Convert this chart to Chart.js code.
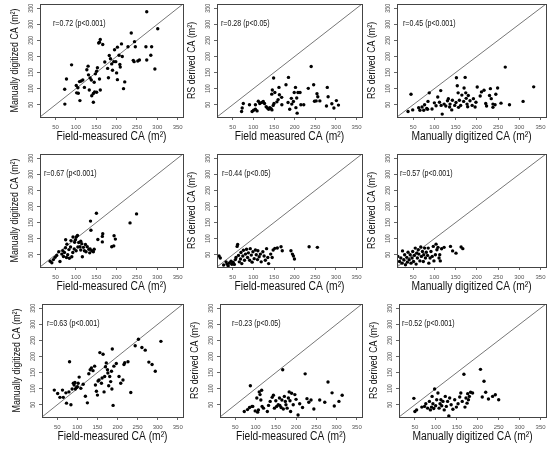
<!DOCTYPE html>
<html>
<head>
<meta charset="utf-8">
<script src="https://cdn.jsdelivr.net/npm/chart.js@4.4.1/dist/chart.umd.min.js"></script>
<style>
html, body { margin: 0; padding: 0; background: #fff; }
#wrap { position: relative; width: 550px; height: 451px; overflow: hidden; }
#wrap canvas { position: absolute; }
</style>
</head>
<body>
<div id="wrap"></div>
<script>
// ---- data ----
// row 1
const p1x = [89.5,77,72.6,73,101,105,102,106,110,109,113,117,121,127,131,130,135,138,133,139,143,146,151,143,145,148,151,153,158,160,158,160,166,156,171,178,180,182,185,188,190,193,195,198,200,202,202,206,208,209,212,214,217,220,228,236,241,243,244,246,252,256,274,272,284,286,294,274,301];
const p1y = [174,130,98,52,110,103,87,86,63,122,124,127,104,159,143,170,133,127,96,78,85,90,89,58,120,146,154,165,130,96,244,253,237,242,183,163,134,203,193,177,157,184,221,184,149,229,128,204,175,167,239,200,100,121,230,273,188,184,246,230,186,189,189,230,204,230,161,339,286];
const p2x = [71.5,73,75.7,90.6,97,100.6,105,109,105,112,115.5,120,124,127,131,134,137,140,143,145,148,150,149,144.5,146,152,157,160,163,162,168.5,169,179,185,184,188,192,193,197,199,202,203,206,205,208,213,215,222,233,240,246,248,252,254,256,261,279,281,277,290,295,301,306];
const p2y = [29,40,54,50,29,33,36,31,50,61,54,57,60,54,44,40,36,41,38,34,48,54,133,83,96,88,59,66,81,104,73,50,112,135,57,36,70,52,60,88,104,41,24,71,88,88,50,50,101,169,112,61,62,84,75,62,104,75,46,53,40,63,49];
const p3x = [45,38,49,63,66,71,75,77,82,85,88,84,94.5,100,104,108,112,115,116,118.5,123,127,131,133,136,137,141,142.5,148,151,152,154,156,159,157,162,164.8,169,170,172.5,174,175,177,178.5,180,184,189,192,196,198,201,208,211,217,221,223,230,232,234,238,243,244.8,249,257,267,277,309,334,238];
const p3y = [82.5,29,34,40.5,33,43,33,50,38.5,60.5,87,36,37,56,47,74,58,94,48,21,52,46,62.6,69,43,52,34,64,48,57,134,109,87,64,42,48,80,60.5,102,135,87,70,52,44,79,62.6,48,69,43,58,105,77,90,95,54,46,79,100,69,52,50,82.5,102,55,167,50,60.5,105.6,42];
// row 2
const p4x = [37,41,45,49,53,58,61,65.5,68,69.6,72,74.5,75,77,78,80,83,84,87,88,90,92.5,93,96,97,99,101,104,105,107,110,112,112,114.5,116,118.6,121,123.5,125,128,132,134,136,137,135,139,143,145,150.5,154,165,166,165,188,193,193.8,197,233,249,100.7];
const p4y = [30,25,35,42,48,59.5,29,52,62.7,44.7,57,72,96.5,41.5,83,50,66,39,74,94,44,57,105,68,89,96.5,105,110,74,88,75,65,92,84,44,73,62.7,82,59.5,75,67,56,154.5,126,68,62.7,59.5,67,179,97.5,107,115.5,90,75,77.5,109,98.6,149,177,62.7];
const p5x = [17,20,28,34,36,39,42,46,48,51,54,56.5,58,60.6,62,64,66,69,70,72,74.5,76,78.6,81,83.5,86,88,91,92.5,95,97,99,102,105,107,110,111,114,117,119,123,126,129,132,135,137,142,145.6,148,152,158,167,170,191,194.6,197,199.5,235,255];
const p5y = [46,40,18,28,21.5,16,24.6,30,20.4,27,20,35,41.5,76,81.7,48,28,37,57,22.5,46,64,33,52,67,41.5,56,33,69,49,27,59.5,38,65,50,35,62.7,43.7,52,28,59.5,46,33,69,41.5,22.5,52,41.5,65,70,71,75,62.7,62.7,52,46,37,75,73];
const p6x = [11,14,18,21,25,24,28,30,32,35,36.4,38,40.7,43,45,47.5,49,51,53,55,57,58.5,60,62,63.5,66,68,69.5,72,74,75,77,79,81,84,85.6,87,90,92,95,97.5,99,102.5,104,106,108.5,111,112.7,114,117,123,138,143,151,163,167];
const p6y = [19,45,29,40,62,24,34.5,50,19,42,27,58,34.5,50,24,40,60,29,48,70.7,21,55,40,65.5,52,31,74,45,60,29,50,70.7,40,58,48,70.7,24,40,60,45,76,31,50,83,65.5,73,40,50,31,68.6,73,76,62,55,74,69];
// row 3
const p7x = [42.6,51,56.6,63,65,71.5,73,79,80.6,84,87,90,92,94,95,98,100,102,104.5,108.7,114.5,120,125,128.5,132,135,139,143,145,147.5,150,151.6,154,156,160,161.6,164,166.5,168,170,172,175,176,178,180.6,183,185,187,186,189,191,197,203.7,208,213.6,216,218,226,233,244,252,260.7,269,278,286,294,308];
const p7y = [95.6,85,73,95.6,73,87,55,90,183.6,50,99,117,111.5,119,99,104,106,117,136,101,113.6,76.5,56,146.5,159,164.5,156,170,111.5,92,80,124,127,212,117,133,207,90,138,168,180,159,148.6,109,138,122,154,223,99,48,170,178,138,117,127,175,180.6,183.6,88,233.5,253.6,228,219.7,182.6,175,154,247];
const p8x = [72,80,85,87,91,93,99,103,105,107,109,111,113,115,116,119.5,129,132,136,141,144,146.5,150,152,156,159,160,163,165,167,168.5,171,173.5,175,178,181,183,185,186.5,189,193,197,200,205,209,216,222.5,227,231.5,237,244,258.5,271,279,289,294.5,306,314];
const p8y = [29,35,41.6,109,45,45,31,71,27,34,90,81.6,65,95,45,39.5,29,48,60.5,73,79.5,39.5,62.6,45,50,71,48,41.6,65,159,37,76,60.5,50,39.5,71,90,62.6,29,86,50,81.6,66.8,18,53,41.6,146,69,58,65,37,65,58,120.5,87,46,60.5,79.5];
const p9x = [47.5,50,54,66.5,73,76,80.5,84.6,87,89.6,91,93,95,97,99.5,102,105,107.7,110,112,114,117,120,122.5,125,128,131,133,136.5,140.7,145,149,153,157,159.6,163,167,169.5,172,174.5,176,177.8,180,183,187.7,206.6,210.8,215,219,225.6,235.5,242,250];
const p9y = [70,29,34,42.7,45,53,39.5,60.5,34,42.7,76,53,38.5,99,47,65.7,86.6,39.5,53,65.7,47,60.5,34,76,45,60.5,15.5,71,50,36,65.7,42.7,53,74,86.6,60.5,145,42.7,71,55,84.5,65.7,76,88.7,86.6,160,74,123,88.7,67.8,76,81,65.7];

const xTitles = ['Field-measured CA (m²)', 'Field measured CA (m²)', 'Manually digitized CA (m²)',
                 'Field-measured CA (m²)', 'Field-measured CA (m²)', 'Manually digitized CA (m²)',
                 'Field-measured CA (m²)', 'Field-measured CA (m²)', 'Manually digitized CA (m²)'];
const yTitles = ['Manually digitized CA (m²)', 'RS derived CA (m²)', 'RS derived CA (m²)',
                 'Manually digitized CA (m²)', 'RS derived CA (m²)', 'RS derived CA (m²)',
                 'Manually digitized CA (m²)', 'RS derived CA (m²)', 'RS derived CA (m²)'];
const rLabels = ['r=0.72 (p<0.001)', 'r=0.28 (p<0.05)', 'r=0.45 (p<0.001)',
                 'r=0.67 (p<0.001)', 'r=0.44 (p<0.05)', 'r=0.57 (p<0.001)',
                 'r=0.63 (p<0.001)', 'r=0.23 (p<0.05)', 'r=0.52 (p<0.001)'];
const tickVals = [50, 100, 150, 200, 250, 300, 350];
const axisMin = 12, axisMax = 363;
const oneToOne = [0, 400];

const panels = [[p1x, p1y], [p2x, p2y], [p3x, p3y], [p4x, p4y], [p5x, p5y], [p6x, p6y], [p7x, p7y], [p8x, p8y], [p9x, p9y]];

// ---- layout: plot box of each panel [left, top, right, bottom] ----
const boxes = [
    [40, 4, 183, 117], [217, 4, 362, 117], [397, 4, 546, 117],
    [40, 154, 183, 267], [217, 154, 362, 267], [397, 154, 546, 267],
    [42, 304, 183, 417], [220, 304, 362, 417], [399, 304, 546, 417]
];
const labelDx = [13, 4, 6, 4, 5, 3, 5, 12, 3];
const AXW = 40, AXH = 34;
const NARROW = 0.82;   // the original uses a condensed face

const fam = "'Liberation Sans', Arial, sans-serif";
Chart.defaults.font.family = fam;

// condensed text helper
function narrowText(ctx, text, x, y, size, angle) {
    ctx.save();
    ctx.font = size + 'px ' + fam;
    ctx.textAlign = 'center';
    ctx.textBaseline = 'middle';
    ctx.translate(x, y);
    if (angle) ctx.rotate(angle);
    ctx.scale(NARROW, 1);
    ctx.fillText(text, 0, 0);
    ctx.restore();
}

// box around the plot region
const frame = {
    id: 'frame',
    afterDatasetsDraw(chart) {
        const a = chart.chartArea, ctx = chart.ctx;
        ctx.save();
        ctx.strokeStyle = '#444';
        ctx.lineWidth = 1;
        ctx.strokeRect(Math.round(a.left) + 0.5, Math.round(a.top) + 0.5, Math.round(a.right - a.left), Math.round(a.bottom - a.top));
        ctx.restore();
    }
};

// y tick labels turned upright like R's
const yTickText = {
    id: 'yTickText',
    afterDraw(chart) {
        const s = chart.scales.y, ctx = chart.ctx;
        ctx.save();
        ctx.fillStyle = '#555';
        s.ticks.forEach(t => narrowText(ctx, String(t.value), s.right - 9, s.getPixelForValue(t.value), 6.5, -Math.PI / 2));
        ctx.restore();
    }
};

// axis titles and r / p text
const panelText = {
    id: 'panelText',
    afterDraw(chart, args, opts) {
        const a = chart.chartArea, ctx = chart.ctx;
        ctx.save();
        ctx.fillStyle = '#111';
        narrowText(ctx, opts.xTitle, (a.left + a.right) / 2, a.bottom + 20, 12.5);
        narrowText(ctx, opts.yTitle, a.left - 25, (a.top + a.bottom) / 2, 10.8, -Math.PI / 2);
        ctx.font = '8.6px ' + fam;
        ctx.textAlign = 'left';
        ctx.textBaseline = 'middle';
        ctx.translate(a.left + opts.dx, a.top + 20);
        ctx.scale(NARROW, 1);
        ctx.fillText(opts.r, 0, 0);
        ctx.restore();
    }
};

const wrap = document.getElementById('wrap');

panels.forEach((p, i) => {
    const b = boxes[i];
    const w = b[2] - b[0] + AXW + 4;
    const h = b[3] - b[1] + AXH + 4;
    const cv = document.createElement('canvas');
    cv.width = w;
    cv.height = h;
    cv.style.left = (b[0] - AXW) + 'px';
    cv.style.top = (b[1] - 4) + 'px';
    cv.style.width = w + 'px';
    cv.style.height = h + 'px';
    wrap.appendChild(cv);

    const pts = p[0].map((x, k) => ({x: x, y: p[1][k]}));
    const diag = oneToOne.map(v => ({x: v, y: v}));

    new Chart(cv.getContext('2d'), {
        type: 'scatter',
        data: {
            datasets: [{
                data: pts,
                pointRadius: 1.7,
                pointBackgroundColor: '#000',
                pointBorderWidth: 0
            }, {
                data: diag,
                showLine: true,
                borderColor: '#777',
                borderWidth: 1,
                pointRadius: 0
            }]
        },
        options: {
            responsive: false,
            animation: false,
            layout: { padding: { top: 4, right: 4, left: 0, bottom: 0 } },
            plugins: {
                legend: { display: false },
                tooltip: { enabled: false },
                panelText: { xTitle: xTitles[i], yTitle: yTitles[i], r: rLabels[i], dx: labelDx[i] }
            },
            scales: {
                x: {
                    type: 'linear',
                    min: axisMin,
                    max: axisMax,
                    afterBuildTicks: s => { s.ticks = tickVals.map(v => ({value: v})); },
                    afterFit: s => { s.height = AXH; },
                    border: { display: false },
                    grid: { drawOnChartArea: false, drawTicks: true, tickLength: 3, color: '#666' },
                    ticks: { font: { size: 6 }, color: '#555', padding: 4, maxRotation: 0, autoSkip: false }
                },
                y: {
                    type: 'linear',
                    min: axisMin,
                    max: axisMax,
                    afterBuildTicks: s => { s.ticks = tickVals.map(v => ({value: v})); },
                    afterFit: s => { s.width = AXW; },
                    border: { display: false },
                    grid: { drawOnChartArea: false, drawTicks: true, tickLength: 3, color: '#666' },
                    ticks: { display: false }
                }
            }
        },
        plugins: [frame, yTickText, panelText]
    });
});
</script>
</body>
</html>
